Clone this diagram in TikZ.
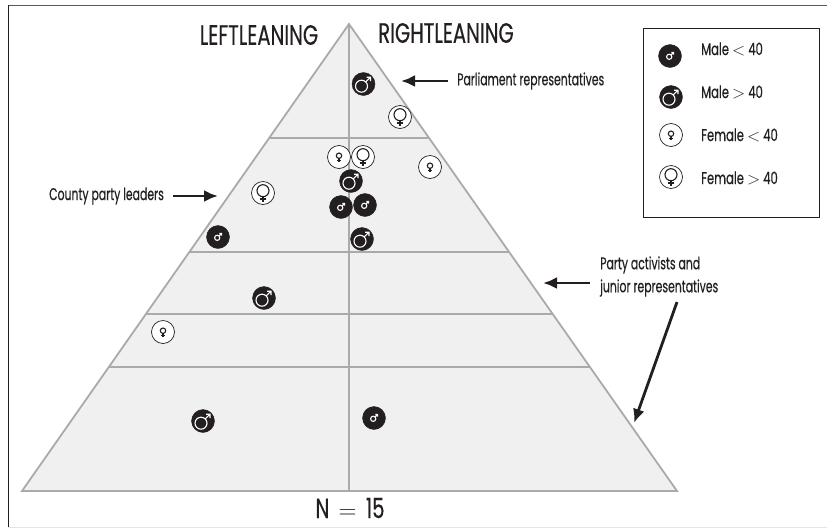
\documentclass[tikz,border=0pt]{standalone}
\usepackage{fontspec}
\setmainfont[FakeStretch=0.64,FakeBold=0.4]{Poppins}
\newfontfamily\ttlfont[FakeStretch=0.70,FakeBold=0.4]{Poppins}
\newfontfamily\lgdfont[FakeStretch=0.68,FakeBold=0.4]{Poppins}
\usetikzlibrary{arrows.meta}
\definecolor{ink}{HTML}{231F20}
\definecolor{pyrline}{HTML}{A9AAAE}
\definecolor{pyrfill}{HTML}{F0F0F1}
\tikzset{
  pyr/.style={draw=pyrline,line width=1.8pt,fill=pyrfill,line join=miter},
  band/.style={draw=pyrline,line width=1.3pt},
  axisline/.style={draw=pyrline,line width=2.4pt},
  dark/.style={circle,fill=ink,draw=ink,inner sep=0pt,minimum size=23pt},
  light/.style={circle,fill=white,draw=ink,line width=0.7pt,inner sep=0pt,minimum size=23pt},
  sym/.style={line width=1.1pt},
  lbl/.style={text=ink,inner sep=0pt,font=\fontsize{17}{19}\selectfont,anchor=west},
  ttl/.style={text=ink,inner sep=0pt,font=\ttlfont\fontsize{28}{30}\selectfont},
  lgd/.style={text=ink,inner sep=0pt,font=\lgdfont\fontsize{17}{19}\selectfont,anchor=west},
  callout/.style={draw=ink,line width=2.8pt,-{Latex[length=14pt,width=12pt]}},
}
\newcommand{\bigmale}[3]{%
  \node[dark] (#1) at (#2,#3) {};
  \draw[sym,white] ([shift={(-2,2.2)}]#1.center) circle[radius=6];
  \draw[sym,white] ([shift={(2.3,-2.1)}]#1.center) -- ([shift={(7,-6.8)}]#1.center) ([shift={(3.2,-6.8)}]#1.center) -- ([shift={(7,-6.8)}]#1.center) -- ([shift={(7,-3)}]#1.center);
}
\newcommand{\smallmale}[3]{%
  \node[dark] (#1) at (#2,#3) {};
  \draw[sym,white] ([shift={(-0.8,0.8)}]#1.center) circle[radius=2.6];
  \draw[sym,white] ([shift={(1,-1)}]#1.center) -- ([shift={(3.6,-3.6)}]#1.center) ([shift={(1.4,-3.6)}]#1.center) -- ([shift={(3.6,-3.6)}]#1.center) -- ([shift={(3.6,-1.4)}]#1.center);
}
\newcommand{\bigfemale}[3]{%
  \node[light] (#1) at (#2,#3) {};
  \draw[sym,ink] ([shift={(0,-2.3)}]#1.center) circle[radius=6];
  \draw[sym,ink] ([shift={(0,3.7)}]#1.center) -- ([shift={(0,9)}]#1.center) ([shift={(-3.3,6)}]#1.center) -- ([shift={(3.3,6)}]#1.center);
}
\newcommand{\smallfemale}[3]{%
  \node[light] (#1) at (#2,#3) {};
  \draw[sym,ink] ([shift={(0,-1.3)}]#1.center) circle[radius=2.7];
  \draw[sym,ink] ([shift={(0,1.4)}]#1.center) -- ([shift={(0,5.2)}]#1.center) ([shift={(-2,3.5)}]#1.center) -- ([shift={(2,3.5)}]#1.center);
}
\begin{document}
\begin{tikzpicture}[x=1pt,y=-1pt]
\useasboundingbox (0,0) rectangle (827,528);
% frame
\coordinate (ftl) at (8,5); \coordinate (ftr) at (827,5);
\coordinate (fbl) at (8,527); \coordinate (fbr) at (827,527);
\draw[draw=black!65,line width=1pt] (ftl) -- (ftr);
\draw[draw=ink,line width=1pt] (ftl) -- (fbl);
\draw[draw=black!10,line width=1pt] (fbl) -- (fbr);
% pyramid
\coordinate (apex) at (349,24); \coordinate (bl) at (22,491); \coordinate (br) at (677,491);
\coordinate (bc) at (349,491);
\draw[pyr] (apex) -- (br) -- (bl) -- cycle;
\coordinate (a1) at (269,138); \coordinate (b1) at (429,138);
\coordinate (a2) at (189,252); \coordinate (b2) at (509,252);
\coordinate (a3) at (146,314); \coordinate (b3) at (552,314);
\coordinate (a4) at (108,367); \coordinate (b4) at (590,367);
\draw[band] (a1) -- (b1); \draw[band] (a2) -- (b2); \draw[band] (a3) -- (b3); \draw[band] (a4) -- (b4);
\draw[axisline] (apex) -- (bc);
% titles
\node[ttl] (tl) at (259,35) {LEFTLEANING};
\node[ttl] (tr) at (446,33) {RIGHTLEANING};
\node[ttl] (nn) at (350,508) {N\,\,$=$\,\,15};
% data
\bigmale{m1}{363.5}{84}
\bigfemale{f1}{400}{117}
\smallfemale{f2}{339}{157}
\bigfemale{f3}{363}{157}
\smallfemale{f4}{430}{167}
\bigmale{m2}{351}{181}
\smallmale{m3}{341}{207}
\smallmale{m4}{365}{205}
\bigmale{m5}{362}{239}
\smallmale{m6}{218}{237}
\bigfemale{f5}{263}{193}
\bigmale{m7}{264}{298}
\smallfemale{f6}{163}{332}
\bigmale{m8}{203}{421}
\smallmale{m9}{374}{418}
% callouts
\node[lbl] (parl) at (457,81) {Parliament representatives};
\node[lbl] (county) at (49,196) {County party leaders};
\node[lbl] (party1) at (600,265) {Party activists and};
\node[lbl] (party2) at (600,288) {junior representatives};
\coordinate (t1) at (401,81); \coordinate (t2) at (218,196); \coordinate (t3) at (543,283); \coordinate (t4) at (634,423);
\draw[callout] (parl.west) ++(-9,0) -- (t1);
\draw[callout] (county.east) ++(9,0) -- (t2);
\draw[callout] (party2.west) ++(-10,-5) -- (t3);
\draw[callout] (677,302) -- (t4);
% legend
\node[draw=ink,line width=1.2pt,minimum width=176pt,minimum height=189pt,inner sep=0pt,anchor=north west] (legend) at (643,28) {};
\smallmale{k1}{670}{56}
\bigmale{k2}{671}{97}
\smallfemale{k3}{671}{135}
\bigfemale{k4}{671}{177}
\node[lgd] (l1) at (701,49) {Male $<$ 40};
\node[lgd] (l2) at (701,92) {Male $>$ 40};
\node[lgd] (l3) at (701,135) {Female $<$ 40};
\node[lgd] (l4) at (701,178) {Female $>$ 40};
\end{tikzpicture}
\end{document}
